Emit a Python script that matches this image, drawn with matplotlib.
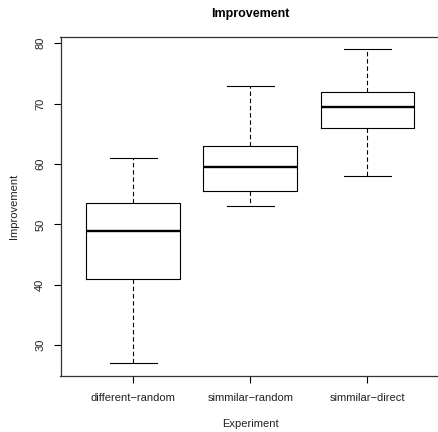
import matplotlib
matplotlib.use("Agg")
import matplotlib.pyplot as plt

plt.rcParams["font.family"] = ["Liberation Sans", "DejaVu Sans"]

# Five-number summaries
categories = ["different\u2212random", "simmilar\u2212random", "simmilar\u2212direct"]
whisker_low = [27.0, 53.0, 58.0]
q1 = [41.0, 55.5, 66.0]
median = [49.0, 59.5, 69.5]
q3 = [53.5, 63.0, 72.0]
whisker_high = [61.0, 73.0, 79.0]
y_ticks = [30, 40, 50, 60, 70, 80]

W, H, DPI = 438, 432, 100
fig = plt.figure(figsize=(W / DPI, H / DPI), dpi=DPI)
fig.patch.set_facecolor("white")
# axes box runs slightly past the right edge, like the cropped original
ax = fig.add_axes([60.5 / W, 56 / H, 379.5 / W, 339.3 / H])

stats = []
for lab, lo, a, m, b, hi in zip(categories, whisker_low, q1, median, q3, whisker_high):
    stats.append({"label": lab, "whislo": lo, "q1": a, "med": m, "q3": b,
                  "whishi": hi, "fliers": []})

ax.bxp(stats, positions=[1, 2, 3], widths=0.8, capwidths=0.4,
       showfliers=False, patch_artist=False,
       boxprops=dict(color="black", linewidth=0.8),
       medianprops=dict(color="black", linewidth=1.7, solid_capstyle="butt"),
       whiskerprops=dict(color="black", linewidth=0.8, linestyle=(0, (4, 2.5))),
       capprops=dict(color="black", linewidth=0.8))

ax.set_xlim(0.38, 3.62)
ax.set_ylim(24.92, 81.08)
ax.set_yticks(y_ticks)
ax.set_yticklabels([str(t) for t in y_ticks], rotation=90, va="center")
ax.set_xticks([1, 2, 3])
ax.set_xticklabels(categories)

ax.tick_params(axis="both", direction="out", length=5, width=0.8,
               labelsize=8, colors="black", labelcolor="#222222")
ax.tick_params(axis="y", pad=6)
ax.tick_params(axis="x", pad=7)
for s in ax.spines.values():
    s.set_linewidth(0.9)
    s.set_color("#333333")

ax.set_xlabel("Experiment", fontsize=8, labelpad=12, color="#222222")
ax.set_ylabel("Improvement", fontsize=8, labelpad=12, color="#222222")
ax.set_title("Improvement", fontsize=9, fontweight="bold", pad=14)

fig.savefig("out.png", dpi=DPI, facecolor="white")
